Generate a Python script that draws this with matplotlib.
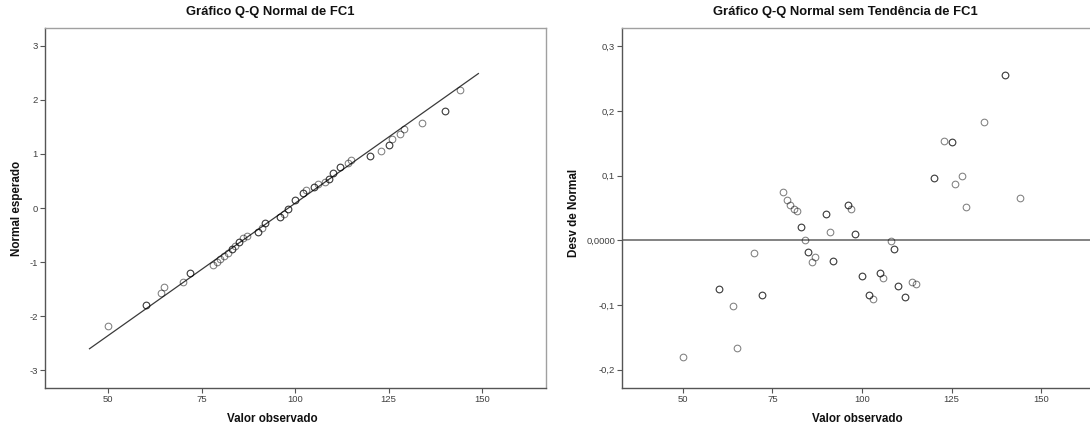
import matplotlib
matplotlib.use("Agg")
import matplotlib.pyplot as plt
from matplotlib.ticker import FixedLocator, FixedFormatter

plt.rcParams['font.family'] = ['Liberation Sans', 'DejaVu Sans']

# Observed FC1 values (x axis of both charts)
observed = [50, 60, 64, 65, 70, 72, 78, 79, 80, 81, 82, 83, 84, 85, 86, 87,
            90, 91, 92, 96, 97, 98, 100, 102, 103, 105, 106, 108, 109, 110,
            112, 114, 115, 120, 123, 125, 126, 128, 129, 134, 140, 144]

# Expected normal quantile for each observed value
expected_normal = [-2.180, -1.796, -1.573, -1.459, -1.362, -1.199, -1.064,
                   -1.003, -0.946, -0.891, -0.839, -0.765, -0.695, -0.628,
                   -0.563, -0.522, -0.442, -0.365, -0.271, -0.162, -0.107,
                   -0.018, 0.144, 0.271, 0.327, 0.384, 0.442, 0.482, 0.543,
                   0.650, 0.765, 0.839, 0.891, 0.972, 1.062, 1.162, 1.276,
                   1.361, 1.459, 1.572, 1.793, 2.180]

# Deviation from normal (detrended)
deviation = [-0.181, -0.075, -0.102, -0.167, -0.019, -0.084, 0.075, 0.063,
             0.055, 0.049, 0.046, 0.021, 0.000, -0.018, -0.034, -0.026,
             0.041, 0.013, -0.032, 0.055, 0.049, 0.009, -0.055, -0.084,
             -0.091, -0.050, -0.059, -0.001, -0.013, -0.071, -0.088, -0.064,
             -0.067, 0.097, 0.154, 0.152, 0.087, 0.100, 0.051, 0.183, 0.256,
             0.065]

# Number of cases sharing each plotted position
freq = [1, 2, 1, 1, 1, 2, 1, 1, 1, 1, 1, 2, 1, 2, 1, 1, 2, 1, 2, 2, 1, 2,
        2, 2, 1, 2, 1, 1, 2, 2, 2, 1, 1, 2, 1, 2, 1, 1, 1, 1, 2, 1]

# Reference normal line (mean and standard deviation of FC1)
fc1_mean = 98.19
fc1_sd = 20.41
line_x = [45, 149]

left_yticks = [-3, -2, -1, 0, 1, 2, 3]
left_ylabels = ['-3', '-2', '-1', '0', '1', '2', '3']
right_yticks = [-0.2, -0.1, 0.0, 0.1, 0.2, 0.3]
right_ylabels = ['-0,2', '-0,1', '0,0000', '0,1', '0,2', '0,3']
xticks = [50, 75, 100, 125, 150]
xlabels = ['50', '75', '100', '125', '150']

W, H = 1090, 432
fig = plt.figure(figsize=(W / 100, H / 100), dpi=100)
fig.patch.set_facecolor('white')

ax1 = fig.add_axes([45 / W, 44 / H, 500.7 / W, 360 / H])
ax2 = fig.add_axes([622.3 / W, 44 / H, 479.7 / W, 360 / H])


def style(ax):
    for side in ('left', 'bottom'):
        ax.spines[side].set_color('#555555')
        ax.spines[side].set_linewidth(1.0)
    for side in ('top', 'right'):
        ax.spines[side].set_color('#a0a0a0')
        ax.spines[side].set_linewidth(1.0)
    ax.tick_params(direction='out', length=3.6, width=0.8, color='#555555',
                   labelsize=6.8, labelcolor='#404040', pad=1.5)
    ax.xaxis.set_major_locator(FixedLocator(xticks))
    ax.xaxis.set_major_formatter(FixedFormatter(xlabels))
    ax.set_xlim(33.1, 167)


def scatter_points(ax, xs, ys):
    for x, y, n in zip(xs, ys, freq):
        for _ in range(n):
            ax.plot([x], [y], linestyle='none', marker='o', markersize=4.8,
                    markerfacecolor='none', markeredgecolor='black',
                    markeredgewidth=0.75, alpha=0.5, zorder=3)


# Normal Q-Q plot
style(ax1)
ax1.set_ylim(-3.333, 3.333)
ax1.yaxis.set_major_locator(FixedLocator(left_yticks))
ax1.yaxis.set_major_formatter(FixedFormatter(left_ylabels))
line_y = [(v - fc1_mean) / fc1_sd for v in line_x]
ax1.plot(line_x, line_y, color='#3a3a3a', linewidth=0.9, zorder=2)
scatter_points(ax1, observed, expected_normal)

# Detrended normal Q-Q plot
style(ax2)
ax2.set_ylim(-0.2286, 0.3286)
ax2.yaxis.set_major_locator(FixedLocator(right_yticks))
ax2.yaxis.set_major_formatter(FixedFormatter(right_ylabels))
ax2.axhline(0, color='#606060', linewidth=1.1, zorder=2)
scatter_points(ax2, observed, deviation)

# Titles and axis labels
title_kw = dict(fontsize=9.4, fontweight='bold', color='#111111',
                ha='center', va='center')
fig.text(270 / W, 1 - 12 / H, 'Gráfico Q-Q Normal de FC1', **title_kw)
fig.text(845 / W, 1 - 12 / H, 'Gráfico Q-Q Normal sem Tendência de FC1', **title_kw)

label_kw = dict(fontsize=8.4, fontweight='bold', color='#111111',
                ha='center', va='center')
fig.text(272 / W, 1 - 419 / H, 'Valor observado', **label_kw)
fig.text(857 / W, 1 - 419 / H, 'Valor observado', **label_kw)
fig.text(17 / W, 1 - 208 / H, 'Normal esperado', rotation=90, **label_kw)
fig.text(574 / W, 1 - 213 / H, 'Desv de Normal', rotation=90, **label_kw)

fig.savefig('out.png', dpi=100, facecolor='white')
